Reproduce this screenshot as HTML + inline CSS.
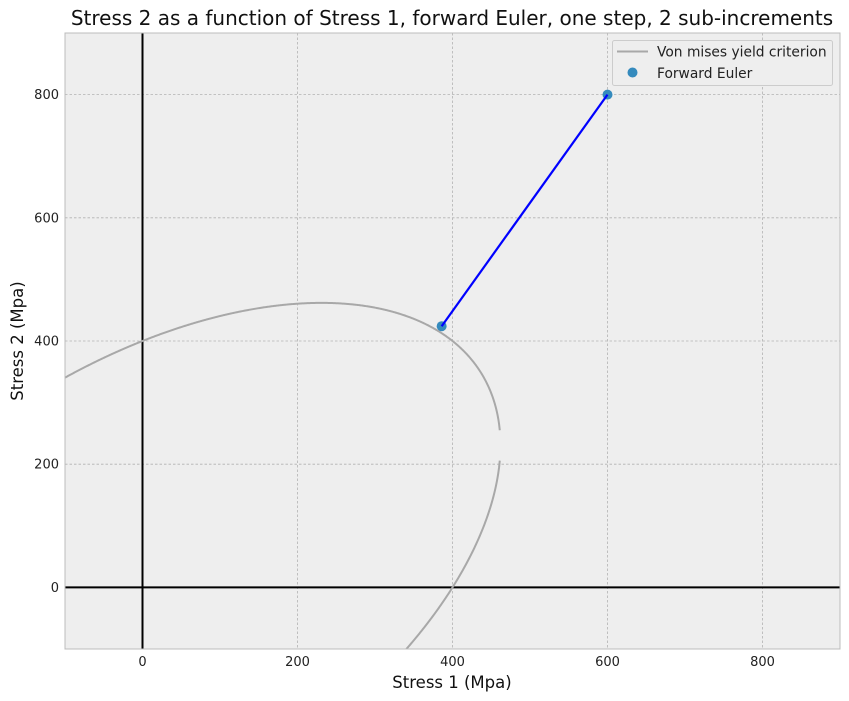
<!DOCTYPE html>
<html><head><meta charset="utf-8"><style>
html,body{margin:0;padding:0;width:849px;height:701px;background:#fff;overflow:hidden;font-family:"Liberation Sans","DejaVu Sans",sans-serif}
svg{display:block;position:absolute;left:0;top:0}
svg text{font-family:"DejaVu Sans","Liberation Sans",sans-serif}
</style></head><body>
<svg id="c" width="849" height="701" xmlns="http://www.w3.org/2000/svg"></svg>
<script>
const xTicks=[0,200,400,600,800];
const yTicks=[0,200,400,600,800];
const xDomain=[-100,900];
const yDomain=[-100,900];
const yieldStress=400;
const eulerS1=[600,386];
const eulerS2=[800,424];
const L=65,R=840,T=33,B=649;
const sx=v=>L+(v-xDomain[0])/(xDomain[1]-xDomain[0])*(R-L);
const sy=v=>B-(v-yDomain[0])/(yDomain[1]-yDomain[0])*(B-T);
const svg=document.getElementById('c');
const NS='http://www.w3.org/2000/svg';
function el(t,a,p){const e=document.createElementNS(NS,t);for(const k in a)e.setAttribute(k,a[k]);(p||svg).appendChild(e);return e;}
const bg=el('rect',{x:L,y:T,width:R-L,height:B-T,fill:'#eeeeee'});


const defs=el('defs',{});const cp=el('clipPath',{id:'cp'},defs);el('rect',{x:L,y:T,width:R-L,height:B-T},cp);
const g=el('g',{'clip-path':'url(#cp)'});
xTicks.forEach(v=>{const l=el('line',{x1:sx(v),x2:sx(v),y1:T,y2:B,stroke:'#b2b2b2','stroke-width':0.8,'stroke-dasharray':'2.5,2'},g);


const t=el('text',{x:sx(v),y:B+17,'text-anchor':'middle','font-size':13,fill:'#222'});t.textContent=v;

});
yTicks.forEach(v=>{const l=el('line',{x1:L,x2:R,y1:sy(v),y2:sy(v),stroke:'#b2b2b2','stroke-width':0.8,'stroke-dasharray':'2.5,2'},g);


const t=el('text',{x:L-6,y:sy(v)+4.5,'text-anchor':'end','font-size':13,fill:'#222'});t.textContent=v;

});
const ax1=el('line',{x1:L,x2:R,y1:sy(0),y2:sy(0),stroke:'#000','stroke-width':2},g);


const ax2=el('line',{x1:sx(0),x2:sx(0),y1:T,y2:B,stroke:'#000','stroke-width':2},g);


let up=[],lo=[];
const s1max=461;
for(let i=0;i<=600;i++){const s1=-100+(s1max+100)*i/600;const d=4*yieldStress*yieldStress-3*s1*s1;if(d<0)continue;const r=Math.sqrt(d);
up.push(sx(s1)+','+sy((s1+r)/2));lo.push(sx(s1)+','+sy((s1-r)/2));}
const p1=el('polyline',{points:up.join(' '),fill:'none',stroke:'#a8a8a8','stroke-width':2},g);


const p2=el('polyline',{points:lo.join(' '),fill:'none',stroke:'#a8a8a8','stroke-width':2},g);


eulerS1.forEach((v,i)=>{const c=el('circle',{cx:sx(v),cy:sy(eulerS2[i]),r:5,fill:'#348abd'},g);

});
const pl=el('polyline',{points:eulerS1.map((v,i)=>sx(v)+','+sy(eulerS2[i])).join(' '),fill:'none',stroke:'#0000ff','stroke-width':2.2},g);


const fr=el('rect',{x:L,y:T,width:R-L,height:B-T,fill:'none',stroke:'#bcbcbc','stroke-width':1});


const lg=el('g',{});


el('rect',{x:612.5,y:40.5,width:220,height:45,rx:2,fill:'#eeeeee',stroke:'#cccccc'},lg);
el('line',{x1:617,x2:648,y1:51.5,y2:51.5,stroke:'#a8a8a8','stroke-width':2},lg);
el('circle',{cx:632.5,cy:72.5,r:5,fill:'#348abd'},lg);
const lt1=el('text',{x:657,y:56.5,'font-size':13.8,fill:'#222'},lg);lt1.textContent='Von mises yield criterion';


const lt2=el('text',{x:657,y:78,'font-size':13.8,fill:'#222'},lg);lt2.textContent='Forward Euler';


const tt=el('text',{x:452,y:25,'text-anchor':'middle','font-size':20,fill:'#111'});tt.textContent='Stress 2 as a function of Stress 1, forward Euler, one step, 2 sub-increments';


const xt=el('text',{x:452,y:688,'text-anchor':'middle','font-size':16.5,fill:'#111'});xt.textContent='Stress 1 (Mpa)';


const yt=el('text',{x:0,y:0,'text-anchor':'middle','font-size':16.5,fill:'#111',transform:'translate(23,341) rotate(-90)'});yt.textContent='Stress 2 (Mpa)';


</script>
</body></html>
